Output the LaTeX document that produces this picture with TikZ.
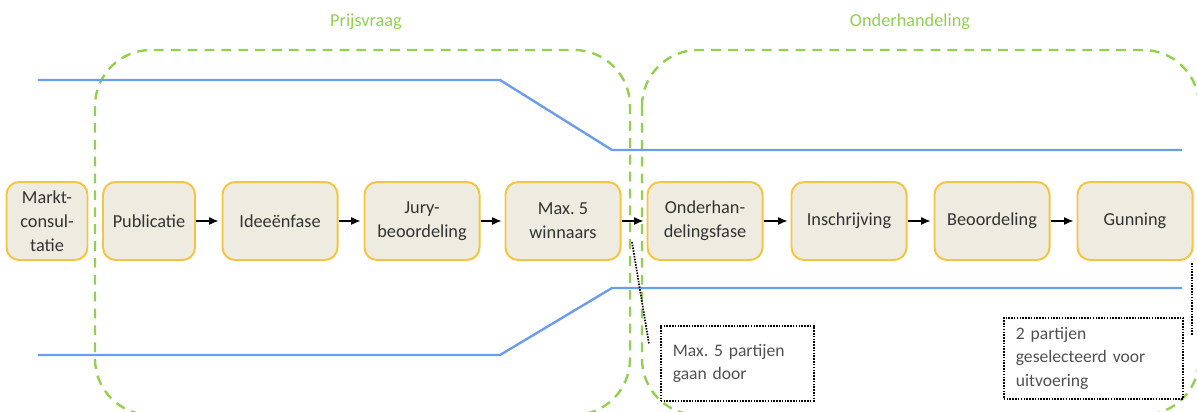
\documentclass[tikz,border=0pt]{standalone}
\usepackage{fontspec}
\setmainfont{Carlito}
\usetikzlibrary{arrows.meta}
\frenchspacing

\definecolor{geel}{HTML}{F8C440}
\definecolor{beige}{HTML}{EEECE1}
\definecolor{groen}{HTML}{92D050}
\definecolor{blauw}{HTML}{6C9CEE}
\definecolor{tekst}{HTML}{333333}
\definecolor{notitietekst}{HTML}{505050}

\tikzset{
    fase/.style={draw=geel, line width=1.4pt, fill=beige, rounded corners=9pt,
        minimum width=2.875cm, minimum height=1.95cm, align=center,
        text=tekst, font=\fontsize{13}{17}\selectfont},
    pijl/.style={-{Latex[length=2.4mm, width=2mm]}, line width=1.1pt, shorten >=2pt},
    grens/.style={blauw, line width=1.7pt},
    keuze/.style={groen, line width=1.7pt, dash pattern=on 7pt off 5pt, rounded corners=1.4cm},
    kop/.style={text=groen, font=\fontsize{13}{15}\selectfont},
    notitie/.style={draw, line width=1.2pt, dash pattern=on 1.1pt off 0.9pt, align=left,
        anchor=north west, inner xsep=0.3cm, text=notitietekst,
        font=\fontsize{12.5}{16.5}\selectfont},
    wijzer/.style={line width=1.2pt, dash pattern=on 1.1pt off 0.9pt}
}

\begin{document}
\begin{tikzpicture}[x=0.025cm, y=-0.025cm]
                    \useasboundingbox (0,0) rectangle (1197,412);
                    % fasen
                    \draw[keuze] (95,50) rectangle (630,415);
                    \draw[keuze] (642,50) rectangle (1199,415);
                    \node[kop] (kopprijs) at (366,22) {Prijsvraag};
                    \node[kop] (kopond) at (910,22) {Onderhandeling};
                    % trechter
                    \draw[grens] (38,80) -- (500,80) -- (612,150) -- (1182,150);
                    \draw[grens] (38,355) -- (500,355) -- (612,288) -- (1182,288);
                    % stappen
                    \node[fase, minimum width=2.025cm] (markt) at (47,221) {Markt-\\consul-\\tatie};
                    \node[fase, minimum width=2.3cm] (pub) at (149,221) {Publicatie};
                    \node[fase] (idee) at (280,221) {Ideeënfase};
                    \node[fase] (jury) at (422,221) {Jury-\\beoordeling};
                    \node[fase] (winn) at (563,221) {Max. 5\\winnaars};
                    \node[fase] (onder) at (705,221) {Onderhan-\\delingsfase};
                    \node[fase] (inschr) at (849,221) {Inschrijving};
                    \node[fase] (beoord) at (992,221) {Beoordeling};
                    \node[fase] (gun) at (1135,221) {Gunning};
                    \draw[pijl] (pub) -- (idee);
                    \draw[pijl] (idee) -- (jury);
                    \draw[pijl] (jury) -- (winn);
                    \draw[pijl] (winn) -- (onder);
                    \draw[pijl] (onder) -- (inschr);
                    \draw[pijl] (inschr) -- (beoord);
                    \draw[pijl] (beoord) -- (gun);
                    % notities
                    \node[notitie, text width=3.225cm, minimum height=1.875cm] (not1) at (660,325) {Max. 5 partijen\\gaan door};
                    \node[notitie, text width=3.875cm, minimum height=2.025cm] (not2) at (1003,317) {2 partijen\\geselecteerd voor\\uitvoering};
                    \coordinate (w1a) at (632,242);
                    \coordinate (w1b) at (649,344);
                    \coordinate (w2a) at (1192,263);
                    \coordinate (w2b) at (1192,335);
                    \draw[wijzer] (w1a) -- (w1b);
                    \draw[wijzer] (w2a) -- (w2b);
                \end{tikzpicture}
\end{document}
